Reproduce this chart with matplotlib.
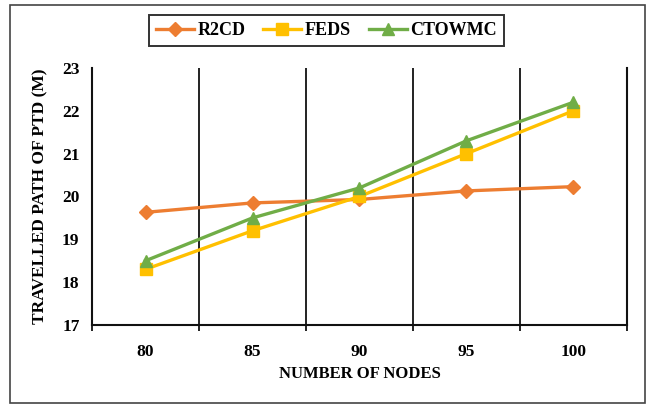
import numpy as np
import matplotlib.pyplot as plt
from matplotlib.patches import Rectangle

plt.rcParams['font.family'] = ['Liberation Serif', 'DejaVu Serif']
plt.rcParams['font.weight'] = 'bold'

nodes = ['80', '85', '90', '95', '100']
r2cd = [19.63, 19.85, 19.93, 20.13, 20.23]
feds = [18.3, 19.2, 20.0, 21.0, 22.0]
ctowmc = [18.5, 19.5, 20.2, 21.3, 22.2]

fig = plt.figure(figsize=(6.53, 4.07), dpi=100)
ax = fig.add_axes([0.141, 0.2015, 0.819, 0.6315])

x = np.arange(len(nodes))
ax.plot(x, r2cd, color='#ED7D31', lw=2.4, marker='D', ms=7, label='R2CD')
ax.plot(x, feds, color='#FFC000', lw=2.4, marker='s', ms=8, label='FEDS')
ax.plot(x, ctowmc, color='#70AD47', lw=2.4, marker='^', ms=8.5, label='CTOWMC')

# vertical grid between categories
for b in np.arange(0.5, len(nodes) - 0.5, 1):
    ax.axvline(b, color='#111111', lw=1.3, zorder=0)

ax.set_xlim(-0.5, len(nodes) - 0.5)
ax.set_ylim(17, 23)
ax.set_yticks(range(17, 24))
ax.set_xticks(x)
ax.set_xticklabels(nodes)
ax.set_xticks(np.arange(-0.5, len(nodes), 1), minor=True)
ax.tick_params(axis='x', which='major', length=0, pad=14, labelsize=12.5)
ax.tick_params(axis='x', which='minor', length=4, width=1.3, color='#111111')
ax.tick_params(axis='y', length=0, pad=9, labelsize=12.5)
for lab in ax.get_xticklabels() + ax.get_yticklabels():
    lab.set_fontweight('bold')

ax.spines['top'].set_visible(False)
for s in ['left', 'bottom', 'right']:
    ax.spines[s].set_color('#111111')
    ax.spines[s].set_linewidth(1.5)

ax.set_xlabel('NUMBER OF NODES', fontsize=12, fontweight='bold', labelpad=4)
ax.set_ylabel('TRAVELLED PATH OF PTD (M)', fontsize=12.5, fontweight='bold', labelpad=10)

leg = fig.legend(loc='center', bbox_to_anchor=(0.5, 0.925), ncol=3, frameon=True,
                 fancybox=False, edgecolor='black', handlelength=2.1,
                 columnspacing=1.0, handletextpad=0.2, borderpad=0.4,
                 prop={'weight': 'bold', 'size': 13})
leg.get_frame().set_linewidth(1.4)

fig.patches.append(Rectangle((10 / 653, 4 / 407), 635 / 653, 398 / 407, transform=fig.transFigure,
                             fill=False, edgecolor='#444444', lw=1.2))

plt.savefig('out.png', dpi=100)
